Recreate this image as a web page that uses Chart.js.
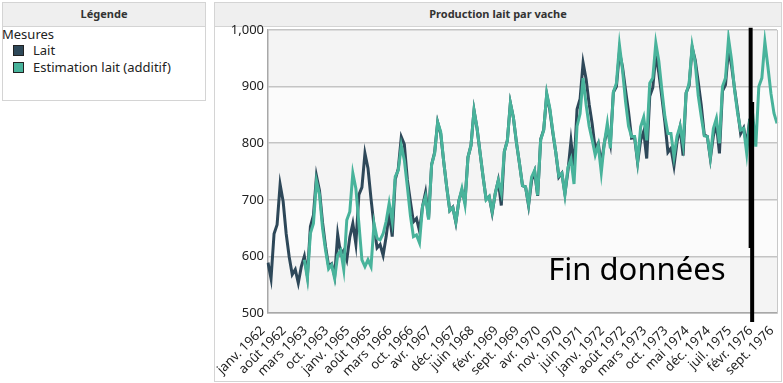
<!DOCTYPE html>
<html>
<head>
<meta charset="utf-8">
<script src="https://cdn.jsdelivr.net/npm/chart.js@4.4.1/dist/chart.umd.min.js"></script>
<style>
  body { margin: 0; width: 783px; height: 383px; background: #fff; position: relative; overflow: hidden;
         font-family: "Noto Sans", sans-serif; color: #333; }
  .panel { position: absolute; border: 1px solid #d4d4d4; box-sizing: border-box; background: #fff; }
  .head { height: 23px; background: #efefef; border-bottom: 1px solid #d4d4d4; font-weight: bold;
          font-size: 11px; text-align: center; line-height: 22px; color: #333; }
  #legend { left: 2px; top: 2px; width: 204px; height: 99px; }
  #main { left: 214px; top: 2px; width: 568px; height: 380px; }
  .lg { position: absolute; font-size: 13px; white-space: nowrap; color: #222; }
  .sw { position: absolute; width: 9px; height: 9px; border: 1px solid #222; }
  #chart { position: absolute; left: 216px; top: 24px; }
</style>
</head>
<body>
<div class="panel" id="legend"><div class="head">Légende</div></div>
<div class="panel" id="main"><div class="head">Production lait par vache</div></div>
<div class="lg" style="left:2px;top:25px">Mesures</div>
<div class="sw" style="left:13px;top:45px;background:#2e4859"></div>
<div class="lg" style="left:33px;top:41px">Lait</div>
<div class="sw" style="left:13px;top:62px;background:#48b39b"></div>
<div class="lg" style="left:33px;top:58px">Estimation lait (additif)</div>
<canvas id="chart" width="564" height="356"></canvas>
<script>
// axis labels shown on the month axis (position = index of the month in the series)
var tickIndex = [0, 7, 14, 21, 28, 35, 42, 49, 55, 63, 69, 77, 84, 91, 98, 105, 112, 119, 126, 133, 140, 147, 154, 161, 168];
var tickLabels = ["janv. 1962", "août 1962", "mars 1963", "oct. 1963", "janv. 1965", "août 1965", "mars 1966",
  "oct. 1966", "avr. 1967", "déc. 1967", "juin 1968", "févr. 1969", "sept. 1969", "avr. 1970", "nov. 1970",
  "juin 1971", "janv. 1972", "août 1972", "mars 1973", "oct. 1973", "mai 1974", "déc. 1974", "juil. 1975",
  "févr. 1976", "sept. 1976"];
var nMonths = 169;

// Lait (data ends Dec 1975)
var lait = [
  589, 561, 640, 656, 727, 697, 640, 599, 568, 577, 553, 582,
  600, 566, 653, 673, 742, 716, 660, 617, 583, 587, 565,
  639, 604, 611, 594, 634,
  658, 622, 709, 722, 782, 756, 702, 653, 615, 621, 602, 635,
  677, 635, 736, 755, 811, 798, 735, 697, 661, 667, 645, 688,
  713, 667, 762, 784, 837, 817, 767, 722, 681, 687, 660, 698,
  717, 696, 775, 796, 858, 826, 783, 740, 701, 706, 677, 711,
  734, 690, 785, 805, 871, 845, 801, 764, 725, 723, 690, 734,
  750, 707, 807, 824, 886, 859, 819, 783, 740, 747, 711, 751,
  804, 756, 860, 878, 942, 913, 869, 834, 790, 800, 763, 800,
  826, 799, 890, 900, 961, 935, 894, 855, 809, 810, 766, 805,
  821, 773, 883, 898, 957, 924, 881, 837, 784, 791, 760, 802,
  828, 778, 889, 902, 969, 947, 908, 867, 815, 812, 773, 813,
  834, 782, 892, 903, 966, 937, 896, 858, 817, 827, 797, 843
];

// Estimation lait (additif), fitted values then forecast
var estimation = [
  null, null, null, null, null, null, null, null, null, null, null, null,
  594, 561, 641, 658, 733, 709, 650, 611, 578, 585, 561,
  603, 611, 577, 664, 679,
  747, 720, 658, 594, 582, 594, 582, 658, 632, 629, 640, 662,
  694, 662, 741, 752, 796, 770, 723, 672, 635, 638, 624, 688,
  706, 665, 762, 782, 837, 820, 767, 722, 681, 686, 661, 698,
  720, 692, 775, 796, 858, 827, 783, 740, 700, 706, 679, 711,
  734, 712, 785, 804, 871, 845, 801, 764, 725, 723, 692, 740,
  752, 708, 806, 823, 888, 862, 821, 783, 742, 747, 709, 757,
  772, 728, 830, 852, 915, 868, 830, 806, 779, 797, 748, 800,
  835, 791, 891, 906, 973, 930, 874, 830, 812, 812, 768, 829,
  846, 805, 906, 915, 977, 945, 894, 847, 817, 817, 776, 812,
  830, 798, 888, 906, 972, 942, 884, 847, 813, 812, 775, 826,
  844, 800, 900, 915, 985, 947, 894, 853, 823, 826, 782, 841,
  850, 794, 900, 915, 979, 935, 888, 853, 835
];

var labels = [];
for (var i = 0; i < nMonths; i++) labels.push('');
for (var k = 0; k < tickIndex.length; k++) labels[tickIndex[k]] = tickLabels[k];

var bands = {
  id: 'bands',
  beforeDraw: function(chart) {
    var ctx = chart.ctx, a = chart.chartArea, y = chart.scales.y;
    ctx.save();
    for (var v = 500; v < 1000; v += 100) {
      ctx.fillStyle = ((v - 500) / 100) % 2 === 0 ? '#f4f4f4' : '#fbfbfb';
      var t = y.getPixelForValue(v + 100), b = y.getPixelForValue(v);
      ctx.fillRect(a.left, t, a.right - a.left, b - t);
    }
    ctx.restore();
  },
  afterDraw: function(chart) {
    var ctx = chart.ctx, a = chart.chartArea, x = chart.scales.x, y = chart.scales.y;
    ctx.save();
    // right border of the plot
    ctx.strokeStyle = '#c8c8c8';
    ctx.lineWidth = 1;
    ctx.beginPath();
    ctx.moveTo(a.right + 0.5, a.top);
    ctx.lineTo(a.right + 0.5, a.bottom);
    ctx.stroke();
    // "Fin données" marker
    ctx.strokeStyle = '#000';
    ctx.lineWidth = 4;
    ctx.beginPath();
    ctx.moveTo(x.getPixelForValue(159.3), y.getPixelForValue(1004));
    ctx.lineTo(x.getPixelForValue(159.3), y.getPixelForValue(615));
    ctx.moveTo(x.getPixelForValue(159.8), y.getPixelForValue(873));
    ctx.lineTo(x.getPixelForValue(159.8), y.getPixelForValue(484));
    ctx.stroke();
    ctx.fillStyle = '#000';
    ctx.font = '31px "Noto Sans"';
    ctx.textAlign = 'left';
    ctx.textBaseline = 'alphabetic';
    ctx.fillText('Fin données', x.getPixelForValue(92.5), y.getPixelForValue(558));
    ctx.restore();
  }
};

var tickFont = { family: '"Noto Sans"', size: 13 };

new Chart(document.getElementById('chart'), {
  type: 'line',
  data: {
    labels: labels,
    datasets: [
      {
        label: 'Lait',
        data: lait,
        borderColor: '#2e4859',
        borderWidth: 3,
        pointRadius: 0,
        tension: 0,
        order: 2
      },
      {
        label: 'Estimation lait (additif)',
        data: estimation,
        borderColor: '#48b39b',
        borderWidth: 3,
        pointRadius: 0,
        tension: 0,
        order: 1
      }
    ]
  },
  options: {
    responsive: false,
    animation: false,
    devicePixelRatio: 1,
    layout: { padding: { top: 6, right: 3, left: 0, bottom: 0 } },
    plugins: { legend: { display: false }, tooltip: { enabled: false } },
    scales: {
      x: {
        offset: false,
        grid: { display: false },
        border: { display: true, color: '#a8a8a8', width: 1.5 },
        ticks: {
          autoSkip: false, minRotation: 45, maxRotation: 45, padding: 2, labelOffset: -5,
          color: '#222', font: tickFont
        },
        afterFit: function(s) { s.height = 67; s.paddingLeft = 0; s.paddingRight = 0; }
      },
      y: {
        min: 500, max: 1000,
        grid: { color: '#c4c4c4', lineWidth: 1.5, drawTicks: false },
        border: { display: true, color: '#a8a8a8', width: 1.5 },
        ticks: {
          stepSize: 100, padding: 4, color: '#222', font: tickFont,
          callback: function(v) { return v.toLocaleString('en-US'); }
        },
        afterFit: function(s) { s.width = 52; s.paddingTop = 0; s.paddingBottom = 0; }
      }
    }
  },
  plugins: [bands]
});
</script>
</body>
</html>
